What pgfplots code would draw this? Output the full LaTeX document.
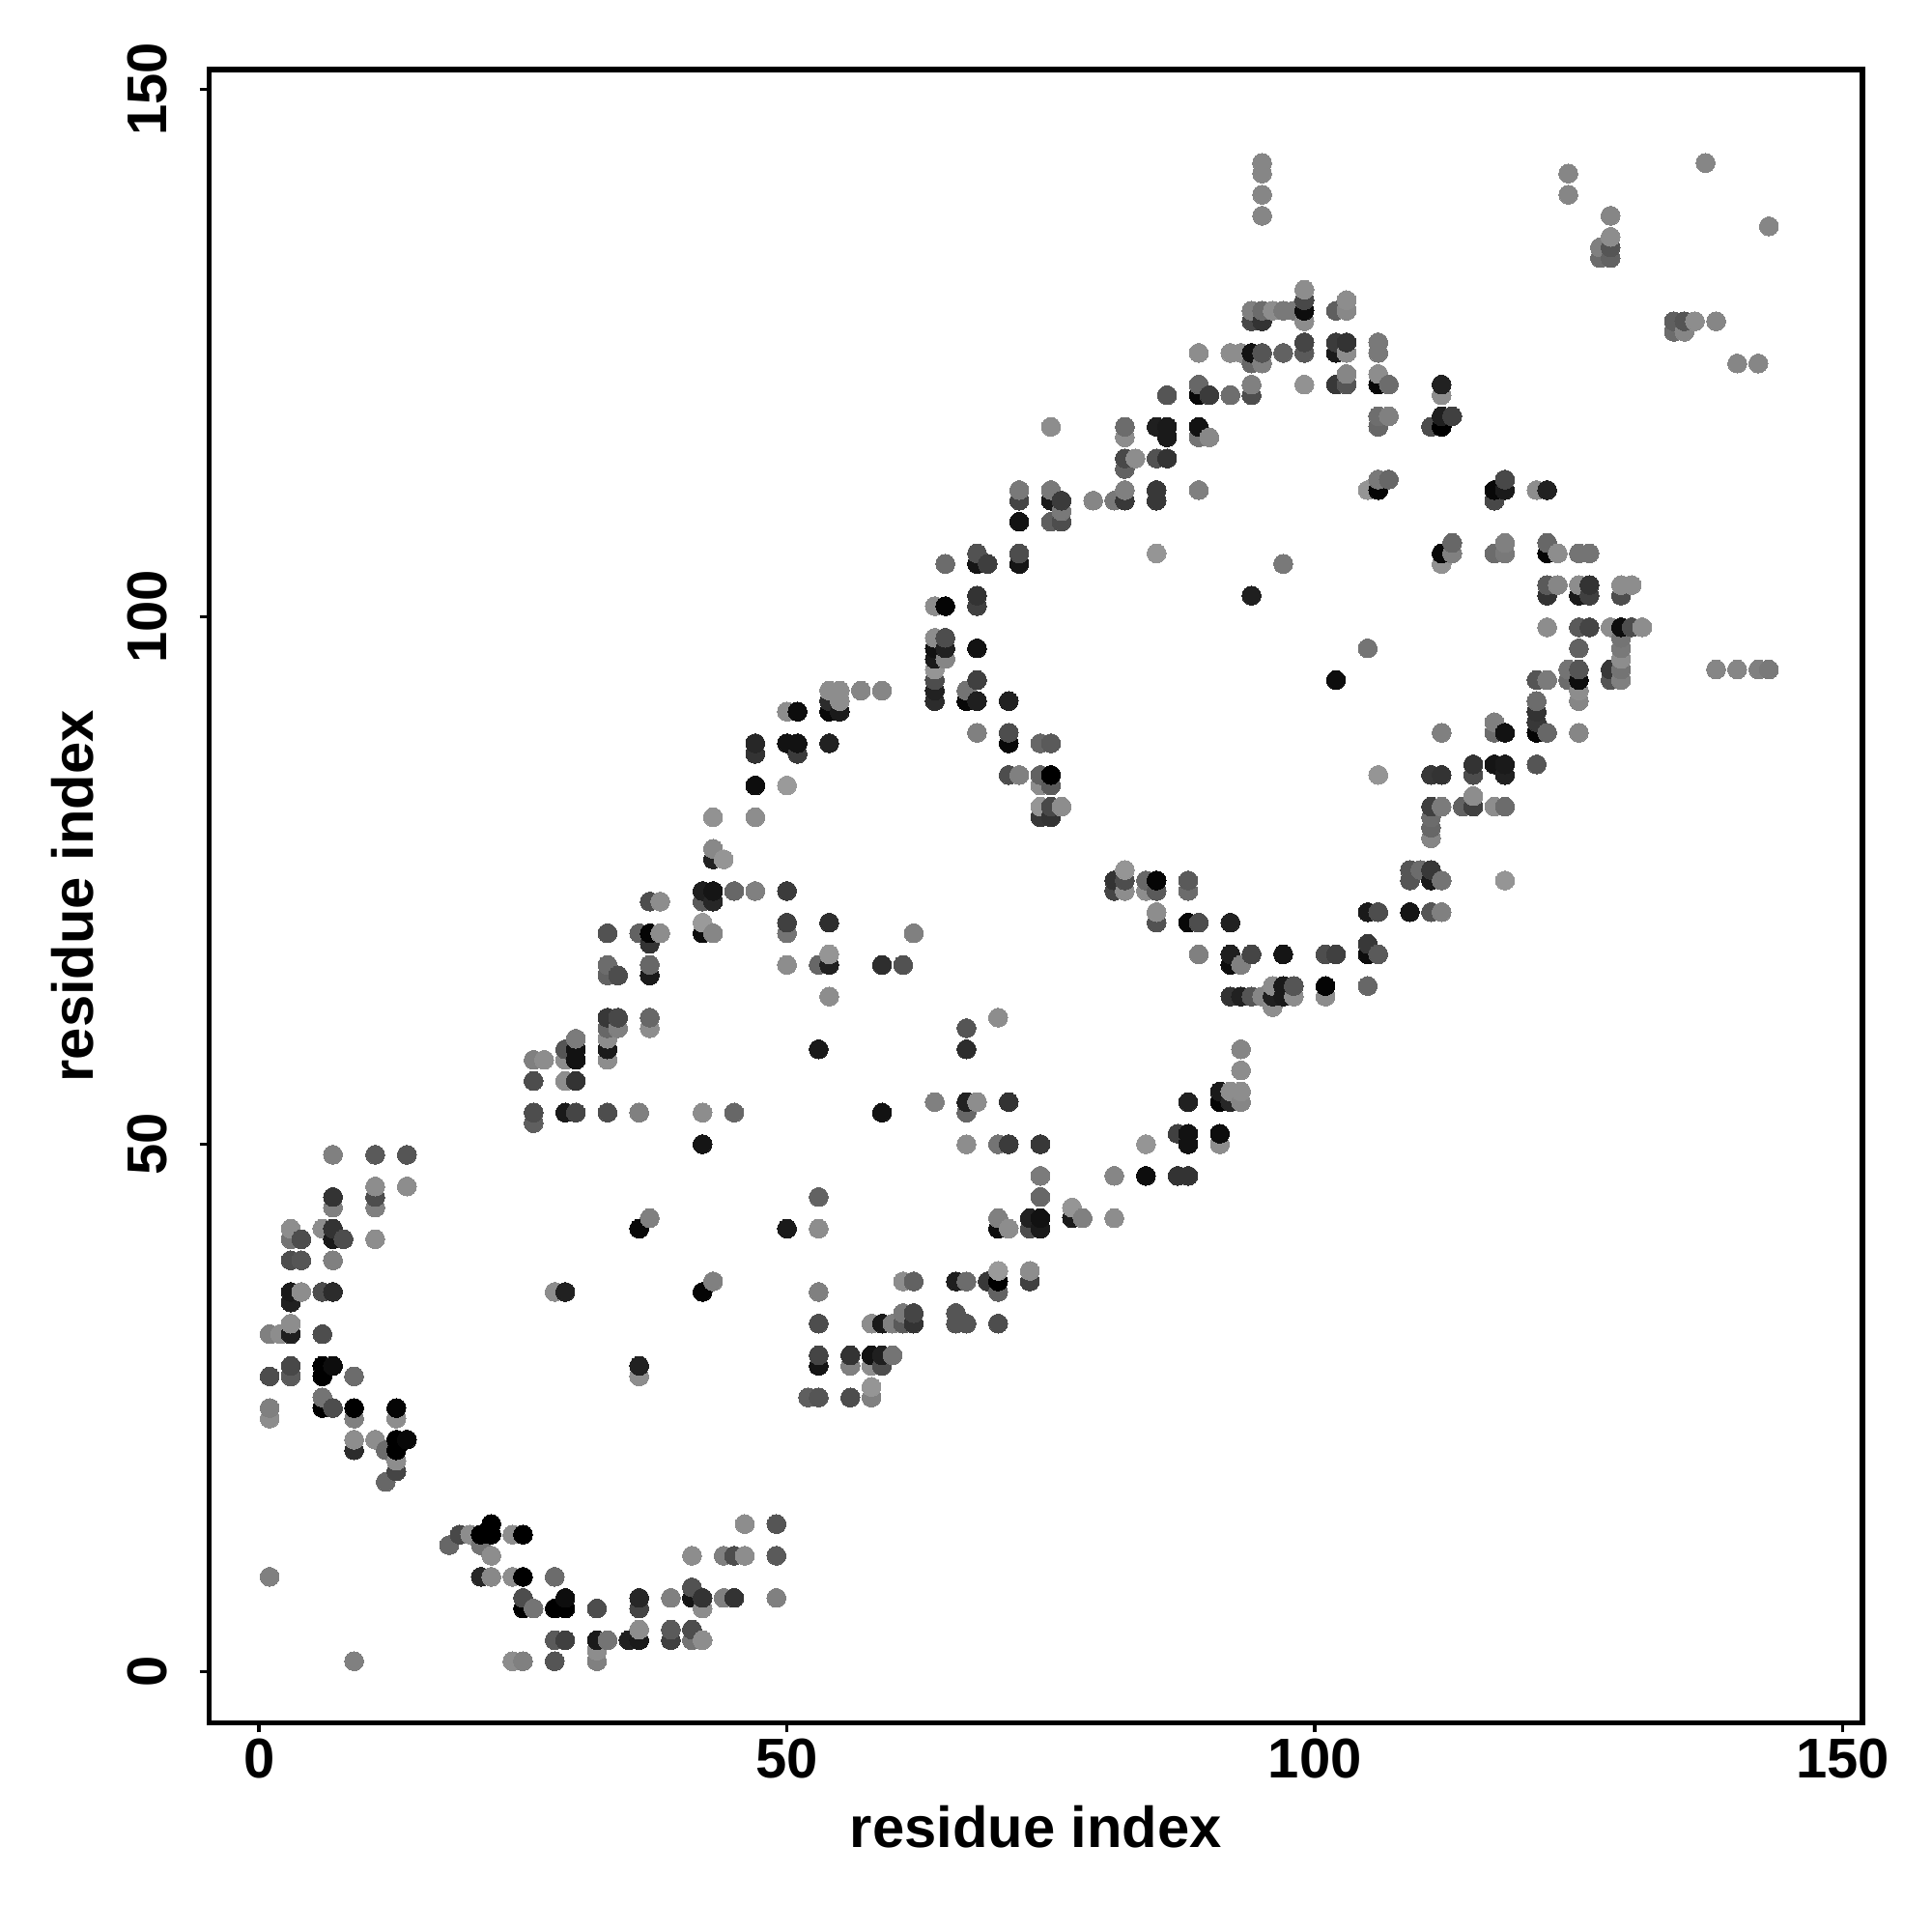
\documentclass[border=0pt]{standalone}
\usepackage{fontspec}
\setmainfont{Liberation Sans}
\usepackage{pgfplots}
\pgfplotsset{compat=1.18}
\newcommand{\lab}{\fontsize{16.5}{20}\selectfont\bfseries}
\newcommand{\axlab}{\fontsize{17}{20}\selectfont\bfseries}
\begin{document}
\begin{tikzpicture}
\useasboundingbox (0,0) rectangle (20cm,20cm);
\begin{axis}[
  at={(2.166cm,2.165cm)}, anchor=south west,
  scale only axis, width=17.115cm, height=17.115cm,
  xmin=-4.72, xmax=151.87, ymin=-4.84, ymax=151.86,
  axis line style={line width=1.5pt},
  xtick={0,50,100,150}, ytick={0,50,100,150},
  xtick pos=left, ytick pos=left, tick align=outside,
  major tick length=1mm,
  every tick/.style={black, line width=1pt},
  /pgf/number format/assume math mode=true,
  tick label style={font=\lab},
  yticklabel style={rotate=90, anchor=south},
  xticklabel shift=-0.6mm, yticklabel shift=2.14mm,
  xlabel={residue index}, ylabel={residue index},
  xlabel shift=0.38mm, ylabel shift=1.1mm,
  label style={font=\axlab},
  colormap={bw}{gray(0cm)=(0); gray(1cm)=(1)},
  point meta min=0, point meta max=1,
]
\addplot[scatter, only marks, mark=*, mark size=0.98mm,
  scatter/use mapped color={draw=mapped color, fill=mapped color},
  mark options={line width=0pt}, point meta=explicit]
coordinates {
(1,9)[.5](1,24)[.55](1,25)[.5](1,28)[.3](1,32)[.5](2,32)[.55]
(3,28)[.35](3,29)[.28](3,32)[.12](3,33)[.55](3,35)[.13](3,36)[.1](3,39)[.3](3,41)[.45](3,42)[.55]
(4,36)[.55](4,39)[.33](4,41)[.3]
(6,25)[0](6,26)[.45](6,28)[0](6,29)[0](6,32)[.3](6,36)[.3](6,42)[.55]
(7,25)[.3](7,29)[.05](7,36)[.17](7,39)[.5](7,41)[.1](7,42)[.2](7,44)[.5](7,45)[.2](7,49)[.5]
(8,41)[.3]
(9,1)[.5](9,21)[.17](9,22)[.55](9,24)[.5](9,25)[0](9,28)[.42]
(11,22)[.55](11,41)[.55](11,44)[.5](11,45)[.3](11,46)[.55](11,49)[.35]
(12,18)[.4](12,21)[.42]
(13,19)[.27](13,20)[.55](13,21)[0](13,22)[0](13,24)[.55](13,25)[.02]
(14,22)[.03](14,46)[.55](14,49)[.33]
(18,12)[.4](19,13)[.28](20,13)[.55]
(21,9)[.15](21,12)[.45](21,13)[0]
(22,9)[.53](22,11)[.55](22,13)[0](22,14)[0]
(24,1)[.55](24,9)[.55](24,13)[.55]
(25,1)[.5](25,6)[0](25,7)[.3](25,9)[0](25,13)[0]
(26,6)[.45](26,52)[.37](26,53)[.3](26,56)[.3](26,58)[.5]
(27,58)[.55]
(28,1)[.33](28,3)[.35](28,6)[0](28,9)[.42](28,36)[.55]
(29,3)[.25](29,6)[0](29,7)[.05](29,36)[.13](29,53)[.1](29,56)[.55](29,58)[.55](29,59)[.33]
(30,53)[.27](30,56)[.2](30,58)[.07](30,59)[.07](30,60)[.48]
(32,1)[.5](32,2)[.55](32,3)[.1](32,6)[.3]
(33,3)[.45](33,53)[.3](33,58)[.55](33,59)[.1](33,60)[.55](33,61)[.4](33,62)[.22](33,66)[.38](33,67)[.42](33,70)[.32]
(34,61)[.5](34,62)[.28](34,66)[.3]
(35,3)[.13]
(36,3)[.1](36,4)[.55](36,6)[.27](36,7)[.15](36,28)[.55](36,29)[.13](36,42)[.03](36,53)[.5](36,70)[.38]
(37,43)[.5](37,61)[.55](37,62)[.4](37,66)[.1](37,67)[.4](37,69)[.2](37,70)[.02](37,73)[.3]
(38,70)[.55](38,73)[.55]
(39,3)[.25](39,4)[.35](39,7)[.5]
(41,3)[.45](41,4)[.3](41,7)[.08](41,8)[.32](41,11)[.55]
(42,3)[.55](42,6)[.55](42,7)[.2](42,36)[.02](42,50)[.08](42,53)[.55](42,70)[.05](42,71)[.6](42,73)[.35](42,74)[.12]
(43,37)[.5](43,70)[.52](43,73)[.15](43,74)[.08](43,77)[.13](43,78)[.53](43,81)[.57]
(44,7)[.5](44,11)[.5](44,77)[.58]
(45,7)[.2](45,11)[.3](45,53)[.4](45,74)[.4]
(46,11)[.55](46,14)[.55]
(47,74)[.5](47,81)[.55](47,84)[.05](47,87)[.2](47,88)[.15]
(49,7)[.5](49,11)[.35](49,14)[.33]
(50,42)[.1](50,67)[.55](50,70)[.45](50,71)[.25](50,74)[.23](50,84)[.6](50,88)[.07](50,91)[.55]
(51,87)[.23](51,88)[.07](51,91)[.05]
(52,26)[.37]
(53,26)[.33](53,29)[.08](53,30)[.27](53,33)[.3](53,36)[.5](53,42)[.55](53,45)[.38](53,59)[.1](53,67)[.4]
(54,64)[.55](54,67)[.13](54,68)[.58](54,71)[.18](54,88)[.13](54,91)[.03](54,92)[.17](54,93)[.55]
(55,91)[.1](55,92)[.55](55,93)[.55]
(56,26)[.3](56,29)[.5](56,30)[.2]
(57,93)[.52]
(58,26)[.5](58,27)[.58](58,29)[.55](58,30)[.07](58,33)[.55]
(59,29)[.3](59,30)[.12](59,33)[.1](59,53)[.07](59,67)[.18](59,93)[.52]
(60,30)[.45](60,33)[.5]
(61,33)[.35](61,34)[.47](61,37)[.55](61,67)[.32]
(62,33)[.2](62,34)[.27](62,37)[.38](62,70)[.5]
(64,54)[.5](64,92)[.17](64,93)[.13](64,94)[.3](64,95)[.58](64,96)[.1](64,97)[.07](64,98)[.55](64,101)[.55]
(65,96)[.52](65,97)[.13](65,98)[.3](65,101)[.02](65,105)[.42]
(66,33)[.33](66,34)[.33](66,37)[.12]
(67,33)[.33](67,37)[.42](67,50)[.55](67,53)[.4](67,54)[.13](67,59)[.17](67,61)[.33](67,92)[.03](67,93)[.45]
(68,54)[.55](68,89)[.5](68,92)[.12](68,94)[.25](68,97)[.07](68,101)[.25](68,102)[.2](68,105)[.08](68,106)[.32]
(69,37)[.22](69,105)[.24]
(70,33)[.3](70,36)[.38](70,37)[0](70,38)[.6](70,42)[.05](70,43)[.5](70,50)[.45](70,62)[.55]
(71,42)[.55](71,50)[.23](71,54)[.2](71,85)[.3](71,88)[.03](71,89)[.3](71,92)[.13]
(72,85)[.5](72,105)[.08](72,106)[.3](72,109)[.07](72,111)[.27](72,112)[.47]
(73,37)[.25](73,38)[.55](73,42)[.3](73,43)[.13]
(74,42)[.1](74,43)[.07](74,45)[.4](74,47)[.48](74,50)[.22](74,81)[.22](74,82)[.58](74,84)[.55](74,85)[.38](74,88)[.4]
(75,81)[.2](75,82)[.28](75,84)[.35](75,85)[0](75,88)[.35](75,109)[.37](75,111)[.1](75,112)[.47](75,118)[.55]
(76,82)[.55](76,109)[.3](76,110)[.47](76,111)[.23]
(77,43)[.1](77,44)[.58](78,43)[.5](79,111)[.52]
(81,43)[.55](81,47)[.52](81,74)[.27](81,75)[.2](81,111)[.47]
(82,74)[.55](82,75)[.3](82,76)[.58](82,111)[.22](82,112)[.5](82,114)[.38](82,115)[.28](82,117)[.55](82,118)[.42]
(83,115)[.55]
(84,47)[.05](84,50)[.58](84,74)[.55](84,75)[.4]
(85,71)[.32](85,72)[.55](85,74)[.35](85,75)[.02](85,106)[.58](85,111)[.22](85,112)[.22](85,115)[.32](85,118)[.12]
(86,115)[.2](86,117)[.1](86,118)[.1](86,121)[.33]
(87,47)[.2](87,51)[.25]
(88,47)[.2](88,50)[.07](88,51)[.07](88,54)[.13](88,71)[.03](88,74)[.42](88,75)[.35]
(89,68)[.5](89,71)[.3](89,112)[.5](89,117)[.45](89,118)[.07](89,121)[.03](89,122)[.4](89,125)[.55]
(90,117)[.53](90,121)[.23]
(91,50)[.55](91,51)[.05](91,54)[.02](91,55)[.1]
(92,54)[.15](92,55)[.55](92,64)[.2](92,67)[.05](92,68)[.12](92,71)[.13](92,121)[.43](92,125)[.55]
(93,54)[.52](93,55)[.55](93,57)[.55](93,59)[.52](93,64)[.13](93,67)[.5](93,125)[.55]
(94,64)[.33](94,68)[.27](94,102)[.12](94,121)[.3](94,122)[.5](94,124)[.4](94,125)[.07](94,128)[.28](94,129)[.5]
(95,64)[.52](95,124)[.5](95,125)[.33](95,128)[.2](95,129)[.42](95,138)[.52](95,140)[.52](95,142)[.52](95,143)[.52]
(96,63)[.55](96,64)[.12](96,65)[.55](96,129)[.55]
(97,64)[.1](97,65)[.1](97,68)[.08](97,105)[.47](97,125)[.38](97,129)[.47]
(98,64)[.55](98,65)[.33](98,129)[.47]
(99,122)[.57](99,125)[.35](99,126)[.27](99,128)[.55](99,129)[.05](99,130)[.28](99,131)[.55]
(101,64)[.55](101,65)[.02](101,68)[.3]
(102,68)[.25](102,94)[.05](102,122)[.22](102,125)[.1](102,126)[.23](102,129)[.37]
(103,122)[.33](103,123)[.52](103,125)[.55](103,126)[.2](103,129)[.53](103,130)[.55]
(105,65)[.4](105,68)[.05](105,69)[.22](105,72)[.1](105,97)[.45](105,112)[.58]
(106,68)[.35](106,72)[.3](106,85)[.58](106,112)[.02](106,113)[.47](106,118)[.4](106,119)[.43](106,122)[.03](106,123)[.55](106,125)[.47](106,126)[.47]
(107,113)[.4](107,119)[.5](107,122)[.42]
(109,72)[.08](109,75)[.33](109,76)[.33](110,76)[.42]
(111,72)[.33](111,75)[.1](111,76)[.22](111,79)[.52](111,80)[.4](111,81)[.42](111,82)[.25](111,85)[.22](111,118)[.3]
(112,72)[.5](112,75)[.45](112,82)[.48](112,85)[.2](112,89)[.5](112,105)[.57](112,106)[.03](112,118)[0](112,119)[.12](112,121)[.55](112,122)[.13]
(113,106)[.5](113,107)[.4](113,119)[.25]
(114,82)[.38]
(115,82)[.25](115,83)[.55](115,85)[.3](115,86)[.2]
(117,82)[.55](117,86)[.08](117,89)[.42](117,90)[.5](117,106)[.42](117,111)[.28](117,112)[.03]
(118,75)[.58](118,82)[.42](118,85)[.13](118,86)[.1](118,89)[.07](118,106)[.47](118,107)[.5](118,112)[.1](118,113)[.28]
(121,86)[.33](121,89)[.02](121,90)[.22](121,91)[.2](121,92)[.42](121,94)[.33](121,112)[.55]
(122,89)[.4](122,94)[.48](122,99)[.55](122,102)[.2](122,103)[.35](122,106)[.02](122,107)[.4](122,112)[.13]
(123,103)[.52](123,106)[.55]
(124,94)[.42](124,95)[.45](124,140)[.52](124,142)[.52]
(125,89)[.52](125,92)[.52](125,93)[.55](125,94)[.05](125,95)[.33](125,97)[.38](125,99)[.35](125,102)[.1](125,103)[.55](125,106)[.45]
(126,99)[.27](126,102)[.25](126,103)[.2](126,106)[.45]
(127,134)[.42](127,135)[.5]
(128,94)[.33](128,95)[.22](128,99)[.55](128,134)[.38](128,135)[.33](128,136)[.55](128,138)[.52]
(129,94)[.5](129,95)[.45](129,96)[.55](129,97)[.47](129,98)[.45](129,99)[.05](129,102)[.3](129,103)[.55]
(130,99)[.3](130,103)[.55](131,99)[.55]
(134,127)[.42](134,128)[.37](135,127)[.52](135,128)[.33](136,128)[.55](137,143)[.52]
(138,95)[.52](138,128)[.52](140,95)[.52](140,124)[.52](142,95)[.5](142,124)[.52](143,95)[.47](143,137)[.52]
};
\end{axis}
\end{tikzpicture}
\end{document}
